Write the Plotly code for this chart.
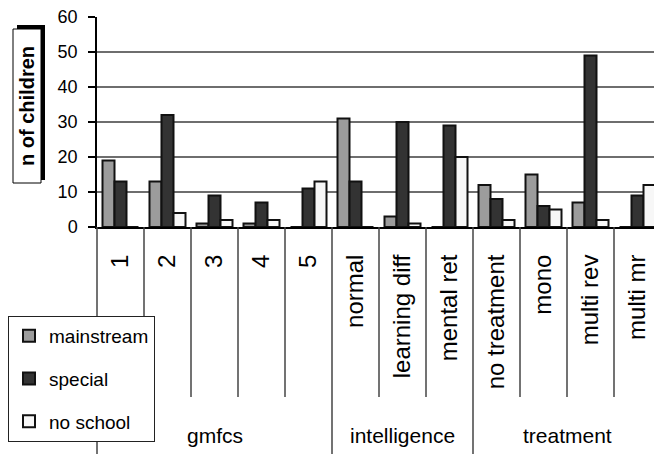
import plotly.graph_objects as go

# ---------------- data ----------------
categories = ["1", "2", "3", "4", "5",
              "normal", "learning diff", "mental ret",
              "no treatment", "mono", "multi rev", "multi mr"]
groups = ["gmfcs", "intelligence", "treatment"]
group_sizes = [5, 3, 4]
mainstream = [19, 13, 1, 1, 0, 31, 3, 0, 12, 15, 7, 0]
special = [13, 32, 9, 7, 11, 13, 30, 29, 8, 6, 49, 9]
no_school = [0, 4, 2, 2, 13, 0, 1, 20, 2, 5, 2, 12]
y_ticks = [0, 10, 20, 30, 40, 50, 60]

# ---------------- layout geometry ----------------
W, H = 654, 454
L, R, T, B = 97, 0, 17, 227
plot_w = W - L - R
plot_h = H - T - B
cat_px = 47.0
x_range = [-0.5, -0.5 + plot_w / cat_px]
FONT = "Liberation Sans, Arial, sans-serif"


def px_x(px):
    return (px - L) / plot_w


def px_y(py):
    return (H - B - py) / plot_h


def cat_to_paper(v):
    return (v - x_range[0]) / (x_range[1] - x_range[0])


fig = go.Figure()
series = [("mainstream", mainstream, "#9c9c9c"),
          ("special", special, "#333333"),
          ("no school", no_school, "#f7f7f7")]
for i, (name, vals, col) in enumerate(series):
    fig.add_trace(go.Bar(
        x=categories, y=vals, name=name, legendgroup=name,
        marker=dict(color=col, line=dict(color="#111111", width=2)),
    ))

shapes = []
# y-axis title box with shadow
shapes.append(dict(type="rect", xref="paper", yref="paper",
                   x0=px_x(17), x1=px_x(45), y0=px_y(180), y1=px_y(25),
                   fillcolor="black", line=dict(width=0), layer="below"))
shapes.append(dict(type="rect", xref="paper", yref="paper",
                   x0=px_x(13), x1=px_x(41), y0=px_y(183), y1=px_y(29),
                   fillcolor="white", line=dict(color="black", width=1), layer="below"))

# category dividers below the axis
group_bounds = [-0.5]
acc = -0.5
for s in group_sizes:
    acc += s
    group_bounds.append(acc)
for k in range(len(categories) + 1):
    b = k - 0.5
    if b > x_range[1]:
        continue
    is_group = b in group_bounds
    shapes.append(dict(type="line", xref="paper", yref="paper",
                       x0=cat_to_paper(b), x1=cat_to_paper(b),
                       y0=0, y1=(px_y(H) if is_group else px_y(397)),
                       line=dict(color="#444444", width=1.5)))

annotations = [dict(text="<b>n of children</b>", xref="paper", yref="paper",
                    x=px_x(27), y=px_y(106), xanchor="center", yanchor="middle",
                    textangle=-90, showarrow=False,
                    font=dict(family=FONT, size=20, color="black"))]
start = 0
for g, s in zip(groups, group_sizes):
    center = start + (s - 1) / 2
    annotations.append(dict(text=g, xref="x", yref="paper", x=center,
                            y=px_y(435), xanchor="center", yanchor="middle",
                            showarrow=False,
                            font=dict(family=FONT, size=21, color="black")))
    start += s

fig.update_layout(
    width=W, height=H,
    margin=dict(l=L, r=R, t=T, b=B, pad=0, autoexpand=False),
    paper_bgcolor="white", plot_bgcolor="white",
    barmode="group", bargap=0.234, bargroupgap=0,
    font=dict(family=FONT, size=18, color="black"),
    shapes=shapes, annotations=annotations,
    showlegend=True,
    legend=dict(x=px_x(8), y=px_y(316), xanchor="left", yanchor="top",
                bordercolor="#222222", borderwidth=1, bgcolor="white",
                font=dict(family=FONT, size=19, color="black"),
                traceorder="grouped", tracegroupgap=15),
    xaxis=dict(type="category", categoryorder="array", categoryarray=categories,
               range=x_range, showgrid=False, showline=True, linecolor="black",
               linewidth=2, ticks="", tickangle=-90, ticklabelstandoff=16,
               tickfont=dict(family=FONT, size=24, color="black"),
               zeroline=False, fixedrange=True),
    yaxis=dict(range=[0, 60], tickvals=y_ticks, showgrid=True, gridcolor="#6e6e6e",
               gridwidth=1.5, showline=True, linecolor="black", linewidth=1.5,
               ticks="outside", ticklen=7, tickcolor="black", tickwidth=1.5,
               ticklabelstandoff=7,
               tickfont=dict(family=FONT, size=18, color="black"),
               zeroline=False, fixedrange=True),
)

fig.write_html("out.html", config={"displayModeBar": False},
               post_script="document.body.style.margin='0';document.body.style.overflow='hidden';")
